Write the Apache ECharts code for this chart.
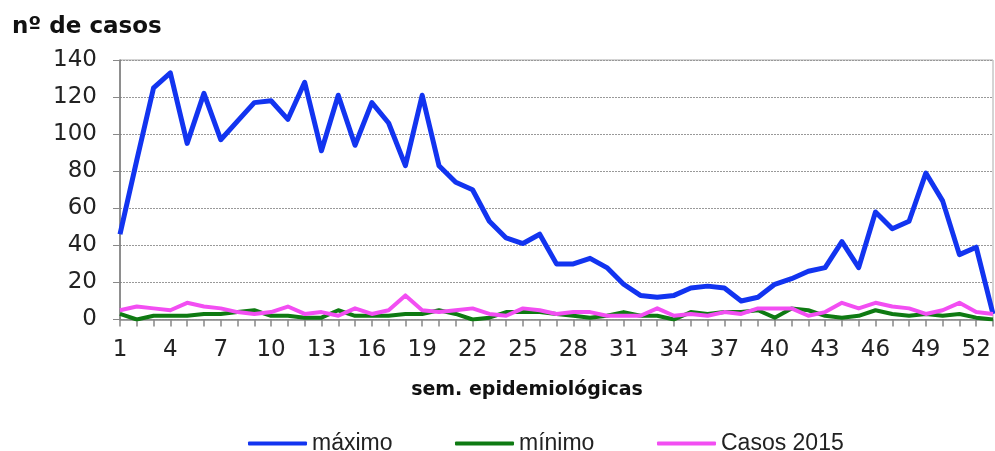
<!DOCTYPE html>
<html>
<head>
<meta charset="utf-8">
<script src="https://cdn.jsdelivr.net/npm/echarts@6/dist/echarts.min.js"></script>
<style>
html,body{margin:0;padding:0;background:#fff;}
#chart{width:995px;height:451px;}
</style>
</head>
<body>
<div id="chart"></div>
<script>
const weeks = ['1','2','3','4','5','6','7','8','9','10','11','12','13','14','15','16','17','18','19','20','21','22','23','24','25','26','27','28','29','30','31','32','33','34','35','36','37','38','39','40','41','42','43','44','45','46','47','48','49','50','51','52','53'];
const maximo = [46,86,125,133,95,122,97,107,117,118,108,128,91,121,94,117,106,83,121,83,74,70,53,44,41,46,30,30,33,28,19,13,12,13,17,18,17,10,12,19,22,26,28,42,28,58,49,53,79,64,35,39,3];
const minimo = [3,0,2,2,2,3,3,4,5,2,2,1,1,5,2,2,2,3,3,5,3,0,1,4,4,4,3,2,1,2,4,2,2,0,4,3,4,4,5,1,6,5,2,1,2,5,3,2,3,2,3,1,0];
const casos2015 = [5,7,6,5,9,7,6,4,3,4,7,3,4,2,6,3,5,13,5,4,5,6,3,2,6,5,3,4,4,2,2,2,6,2,3,2,4,3,6,6,6,2,4,9,6,9,7,6,3,5,9,4,3];
const yTicks = {min: 0, max: 140, interval: 20};
const titleY = 'nº de casos';
const titleX = 'sem. epidemiológicas';
const names = ['máximo', 'mínimo', 'Casos 2015'];
const colors = ['#1234F0', '#0E7A12', '#F24EF2'];

const chart = echarts.init(document.getElementById('chart'), null, {renderer: 'canvas'});
const legendLefts = [248, 455, 657];
chart.setOption({
  animation: false,
  backgroundColor: '#fff',
  grid: {left: 120, right: 2, top: 60, height: 259.5, show: true, borderColor: '#aaa', borderWidth: 1},
  graphic: [
    {type: 'text', left: 12, top: 16, style: {text: titleY, font: 'bold 23px "DejaVu Sans"', fill: '#111'}},
    {type: 'text', style: {x: 527, y: 390, text: titleX, font: 'bold 19px "DejaVu Sans"', fill: '#111', align: 'center', verticalAlign: 'middle'}}
  ],
  legend: names.map((n, i) => ({
    data: [n], left: legendLefts[i], top: 432, padding: 0, icon: 'roundRect', itemWidth: 59, itemHeight: 4,
    textStyle: {fontFamily: 'Liberation Sans', fontSize: 23, color: '#222', lineHeight: 23}
  })),
  xAxis: {
    type: 'category', data: weeks, boundaryGap: false,
    axisLine: {lineStyle: {color: '#888', width: 1.5}},
    axisTick: {show: true, interval: 0, length: 7, lineStyle: {color: '#888', width: 1.5}},
    axisLabel: {interval: (idx) => idx % 3 === 0, margin: 19, fontFamily: 'DejaVu Sans', fontSize: 23, color: '#222'},
    splitLine: {show: false}
  },
  yAxis: {
    type: 'value', min: yTicks.min, max: yTicks.max, interval: yTicks.interval,
    axisLine: {show: true, lineStyle: {color: '#777', width: 1.5}},
    axisTick: {show: true, length: 7, lineStyle: {color: '#888'}},
    axisLabel: {margin: 23, fontFamily: 'DejaVu Sans', fontSize: 23, color: '#222'},
    splitLine: {show: true, lineStyle: {color: '#999', type: [2, 1], width: 1}}
  },
  series: [
    {name: names[0], type: 'line', data: maximo, showSymbol: false, symbol: 'none', lineStyle: {color: colors[0], width: 5, join: 'round'}, itemStyle: {color: colors[0]}},
    {name: names[1], type: 'line', data: minimo, showSymbol: false, symbol: 'none', lineStyle: {color: colors[1], width: 4, join: 'round'}, itemStyle: {color: colors[1]}},
    {name: names[2], type: 'line', data: casos2015, showSymbol: false, symbol: 'none', lineStyle: {color: colors[2], width: 4, join: 'round'}, itemStyle: {color: colors[2]}}
  ]
});
</script>
</body>
</html>
